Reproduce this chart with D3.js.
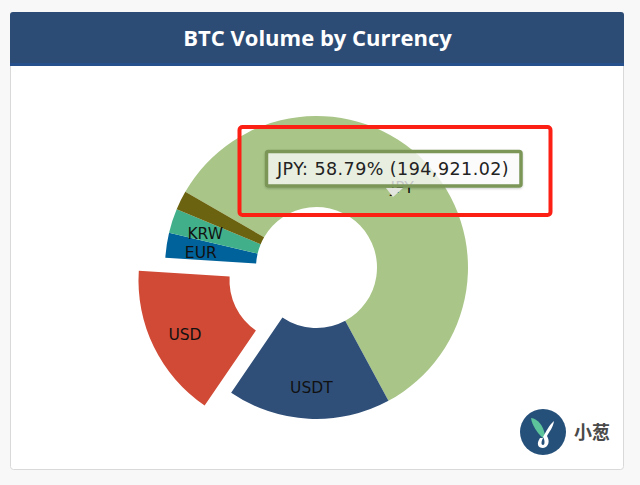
<!DOCTYPE html>
<html><head><meta charset="utf-8">
<script src="https://cdn.jsdelivr.net/npm/d3@7/dist/d3.min.js"></script>
<style>html,body{margin:0;padding:0;background:#f8f8f8;overflow:hidden}svg{display:block}</style>
</head><body><svg id="c" width="640" height="485"></svg>
<script>
const categories = ["JPY","USDT","USD","EUR","KRW","Other"];
const volumes = [194921.02,57700,54700,8850,8600,6784];
const labels = ["JPY","USDT","USD","EUR","KRW",""];
const colors = ["#a9c688","#2f4f79","#d14a35","#00629b","#41b08a","#6b6310"];
const explodedCategory = "USD";
const titleText = "BTC Volume by Currency";
const tooltipText = "JPY: 58.79% (194,921.02)";
const logoText = "小葱";

const svg = d3.select("#c");
const cx = 316.5, cy = 267.5, R = 151.5, r0 = 60.5, explode = 29.5, labelR = 118;

// card
svg.append("rect").attr("x",10.5).attr("y",12.5).attr("width",613).attr("height",457).attr("rx",3)
  .attr("fill","#fff").attr("stroke","#d9d9d9");
svg.append("path").attr("d","M10 66V15a3 3 0 0 1 3-3H621a3 3 0 0 1 3 3V66Z").attr("fill","#2d4c75");
svg.append("rect").attr("x",10).attr("y",63).attr("width",614).attr("height",3).attr("fill","#26508c");
svg.append("text").attr("x",317.5).attr("y",46).attr("text-anchor","middle")
  .attr("font-family","'Open Sans'").attr("font-weight",700).attr("font-size",22).attr("fill","#fff").text(titleText);

// pie
const pie = d3.pie().sort(null).startAngle(-Math.PI/3).endAngle(5*Math.PI/3);
const arcs = pie(volumes);
const arc = d3.arc().innerRadius(r0).outerRadius(R);
const labelArc = d3.arc().innerRadius(labelR).outerRadius(labelR);
const off = (d,i) => {
  if (categories[i] !== explodedCategory) return [0,0];
  const a = (d.startAngle+d.endAngle)/2;
  return [explode*Math.sin(a), -explode*Math.cos(a)];
};
const g = svg.append("g").attr("transform",`translate(${cx},${cy})`);
g.selectAll("path").data(arcs).join("path")
  .attr("d",arc).attr("fill",(d,i)=>colors[i])
  .attr("transform",(d,i)=>`translate(${off(d,i)})`);
g.selectAll("text").data(arcs).join("text")
  .attr("transform",(d,i)=>{const c=labelArc.centroid(d),o=off(d,i);return `translate(${c[0]+o[0]+1},${c[1]+o[1]+2})`;})
  .attr("text-anchor","middle").attr("dy","0.35em")
  .attr("font-family","'DejaVu Sans'").attr("font-size",15.5).attr("fill","#111")
  .text((d,i)=>labels[i]);

// tooltip
const defs = svg.append("defs");
const f = defs.append("filter").attr("id","s").attr("x","-5%").attr("y","-20%").attr("width","110%").attr("height","140%");
f.append("feDropShadow").attr("dx",0).attr("dy",1).attr("stdDeviation",1).attr("flood-color","#000").attr("flood-opacity",.2);
svg.append("rect").attr("x",266.5).attr("y",151.5).attr("width",254.5).attr("height",34.5).attr("rx",2)
  .attr("fill","#fff").attr("fill-opacity",.74).attr("stroke","#7b9659").attr("stroke-width",3.5).attr("filter","url(#s)");
svg.append("path").attr("d","M386 188H403L393 197Z").attr("fill","#e3e6df");
svg.append("text").attr("x",277).attr("y",174.5).attr("font-family","'DejaVu Sans'").attr("font-size",17.5)
  .attr("letter-spacing",0.45).attr("fill","#222").text(tooltipText);

// annotation box
svg.append("rect").attr("x",239.5).attr("y",127).attr("width",311).attr("height",88).attr("rx",3)
  .attr("fill","none").attr("stroke","#fb1f14").attr("stroke-width",4);

// logo
const logo = svg.append("g").attr("transform","translate(543,432)");
logo.append("circle").attr("r",23).attr("fill","#25507a");
logo.append("path").attr("d","M-12-14C-5-13 0-7 2 3L0 6C-6 1-11-7-12-14Z").attr("fill","#5dc39a");
logo.append("path").attr("d","M11-11C10-4 6 0 4 4C7 9 6 15 0 16C-5 16-7 12-3 6L0 6C-2 10-2 13 0 13C2 13 2 8 0 5C3 0 6-7 11-11Z").attr("fill","#fff");
svg.append("text").attr("x",574).attr("y",438.5).attr("font-family","'Noto Sans CJK SC'").attr("font-weight",700)
  .attr("font-size",18).attr("fill","#4a4a4a").text(logoText);
</script></body></html>
